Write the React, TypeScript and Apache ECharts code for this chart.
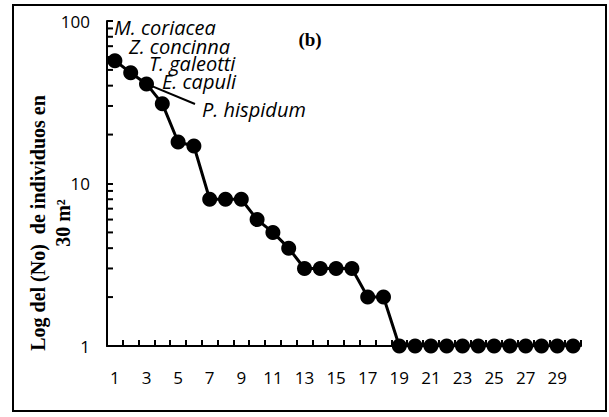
import React, { useEffect, useRef } from "react";
import * as echarts from "echarts";

const categories = Array.from({ length: 30 }, (_, i) => String(i + 1));
const individuals = [57, 48, 41, 31, 18, 17, 8, 8, 8, 6, 5, 4, 3, 3, 3, 3, 2, 2, 1, 1, 1, 1, 1, 1, 1, 1, 1, 1, 1, 1];
const minorTickValues = [2, 3, 4, 5, 6, 7, 8, 9, 20, 30, 40, 50, 60, 70, 80, 90];
const speciesLabels = ["M. coriacea", "Z. concinna", "T. galeotti", "E. capuli", "P. hispidum"];
const yAxisTitle = "Log del (No)  de individuos en\n30 m²";
const panelLabel = "(b)";

export default function App() {
  const ref = useRef<HTMLDivElement>(null);
  useEffect(() => {
    if (!ref.current) return;
    const chart = echarts.init(ref.current, undefined, { renderer: "svg" });
    const sans = "Open Sans";
    const labelPos = [
      [114, 27],
      [129, 46],
      [149, 63],
      [162, 81],
      [202, 109],
    ];
    chart.setOption({
      animation: false,
      backgroundColor: "#fff",
      grid: { left: 107, right: 28, top: 21, bottom: 71 },
      xAxis: {
        type: "category",
        data: categories,
        boundaryGap: true,
        axisLine: { show: true, lineStyle: { color: "#000", width: 2 } },
        axisTick: { show: true, inside: true, length: 6, interval: 0, lineStyle: { color: "#000", width: 2 } },
        axisLabel: { interval: 1, color: "#000", fontFamily: sans, fontSize: 17, margin: 23 },
        splitLine: { show: false },
      },
      yAxis: {
        type: "log",
        logBase: 10,
        min: 1,
        max: 100,
        axisLine: { show: true, lineStyle: { color: "#000", width: 2 } },
        axisTick: { show: true, inside: true, length: 6, lineStyle: { color: "#000", width: 2 } },
        axisLabel: { color: "#000", fontFamily: sans, fontSize: 17, margin: 17 },
        splitLine: { show: false },
      },
      graphic: [
        {
          type: "rect",
          shape: { x: 13, y: 5, width: 593, height: 406 },
          style: { fill: null, stroke: "#000", lineWidth: 2 },
          silent: true,
        },
        {
          type: "text",
          x: 50,
          y: 223,
          rotation: Math.PI / 2,
          style: {
            text: yAxisTitle,
            fontFamily: "Liberation Serif",
            fontWeight: "bold",
            fontSize: 20,
            lineHeight: 25,
            fill: "#000",
            align: "center",
            verticalAlign: "middle",
          },
        },
        {
          type: "text",
          x: 310,
          y: 39,
          style: {
            text: panelLabel,
            fontFamily: "Liberation Serif",
            fontWeight: "bold",
            fontSize: 19,
            fill: "#000",
            align: "center",
            verticalAlign: "middle",
          },
        },
        ...speciesLabels.map((t, i) => ({
          type: "text",
          x: labelPos[i][0],
          y: labelPos[i][1],
          z: 1,
          style: {
            text: t,
            fontFamily: sans,
            fontStyle: "italic",
            fontSize: 20,
            fill: "#000",
            align: "left",
            verticalAlign: "middle",
          },
        })),
      ],
      series: [
        {
          type: "line",
          data: individuals,
          z: 5,
          symbol: "circle",
          symbolSize: 15,
          showSymbol: true,
          showAllSymbol: true,
          lineStyle: { color: "#000", width: 3 },
          itemStyle: { color: "#000" },
          markLine: {
            silent: true,
            symbol: ["none", "none"],
            label: { show: false },
            lineStyle: { color: "#000", width: 2, type: "solid" },
            data: [[{ coord: ["3", 41] }, { x: 195, y: 104 }]],
          },
        },
        {
          type: "custom",
          silent: true,
          data: minorTickValues.map((v) => [0, v]),
          renderItem: (params: any, api: any) => {
            const p = api.coord([api.value(0), api.value(1)]);
            const half = api.size([1, 1])[0] / 2;
            const x0 = p[0] - half;
            return {
              type: "line",
              shape: { x1: x0, y1: p[1], x2: x0 + 6, y2: p[1] },
              style: { stroke: "#000", lineWidth: 2 },
            };
          },
        },
      ],
    });
    return () => chart.dispose();
  }, []);
  return (
    <div
      ref={ref}
      style={{ position: "fixed", left: 0, top: 0, width: 609, height: 417 }}
    />
  );
}
